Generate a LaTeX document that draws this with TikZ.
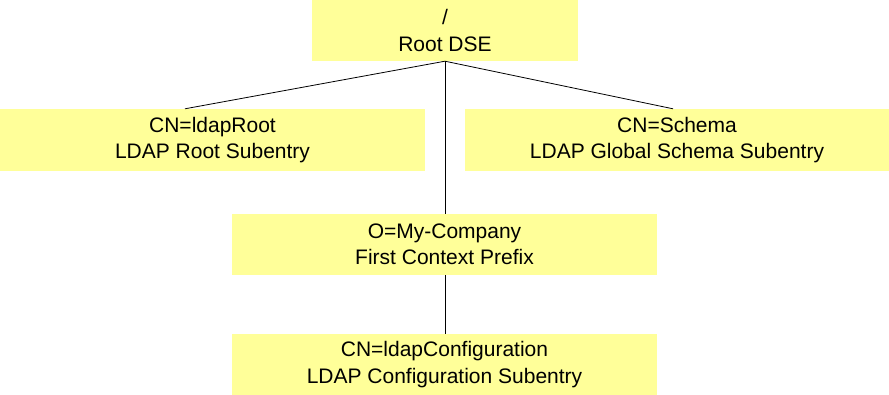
\documentclass[tikz,border=0pt]{standalone}
\usepackage{fontspec}
\setmainfont{Liberation Sans}
\definecolor{boxyellow}{HTML}{FFFF99}
\begin{document}
\begin{tikzpicture}[x=1pt,y=-1pt,
  entry/.style={fill=boxyellow,draw=none,inner sep=0pt,align=center,
    font=\fontsize{21}{26.5}\selectfont,anchor=center},
  link/.style={draw=black,line width=0.8pt}]
\useasboundingbox (0,0) rectangle (889,395);
\node[entry,minimum width=266pt,minimum height=61pt] (root) at (445,30.5) {/\\Root DSE};
\node[entry,minimum width=425pt,minimum height=62pt] (ldaproot) at (212.5,140) {CN=ldapRoot\\LDAP Root Subentry};
\node[entry,minimum width=424pt,minimum height=62pt] (schema) at (677,140) {CN=Schema\\LDAP Global Schema Subentry};
\node[entry,minimum width=425pt,minimum height=61pt] (company) at (444.5,244.5) {O=My-Company\\First Context Prefix};
\node[entry,minimum width=425pt,minimum height=61pt] (config) at (444.5,364.5) {CN=ldapConfiguration\\LDAP Configuration Subentry};
\draw[link] (root.south) -- ([xshift=-27.5pt]ldaproot.north);
\draw[link] (root.south) -- ([xshift=-4pt]schema.north);
\draw[link] (root.south) -- (root.south |- company.north);
\draw[link] (company.south -| root.south) -- (config.north -| root.south);
\end{tikzpicture}
\end{document}
